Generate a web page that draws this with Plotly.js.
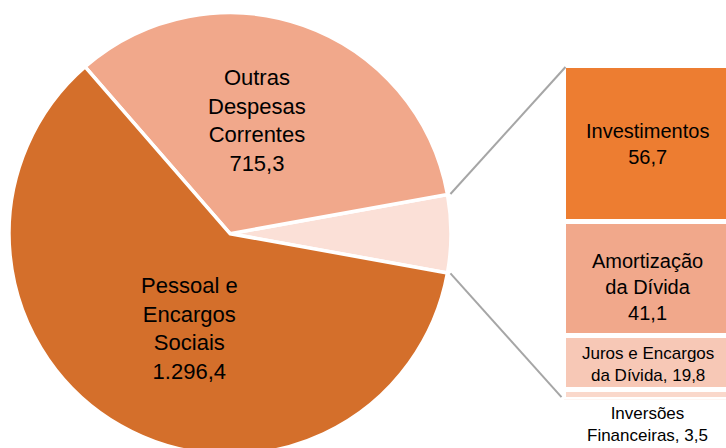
<!DOCTYPE html>
<html>
<head>
<meta charset="utf-8">
<script src="https://cdn.plot.ly/plotly-3.0.1.min.js"></script>
<style>
  html, body { margin: 0; padding: 0; overflow: hidden; background: #fff; }
  #chart { width: 732px; height: 460px; }
</style>
</head>
<body>
<div id="chart"></div>
<script>
// pie slices (R$ milhões)
let pieLabels = ["Outros", "Outras Despesas Correntes", "Pessoal e Encargos Sociais"];
let pieText = ["", "Outras<br>Despesas<br>Correntes<br>715,3", "Pessoal e<br>Encargos<br>Sociais<br>1.296,4"];
let pieValues = [null, 715.3, 1296.4];
let pieColors = ["#FBE0D7", "#F1A88B", "#D46F2B"];

// breakdown of the small slice, bottom to top
let barLabels = ["Inversões Financeiras", "Juros e Encargos da Dívida", "Amortização da Dívida", "Investimentos"];
let barText = ["Inversões<br>Financeiras, 3,5", "Juros e Encargos<br>da Dívida, 19,8", "Amortização<br>da Dívida<br>41,1", "Investimentos<br>56,7"];
let barValues = [3.5, 19.8, 41.1, 56.7];
let barColors = ["#FAD8CB", "#F7C8B6", "#F1A88B", "#ED7D31"];

let W = 732, H = 460;
let cx = 230, cy = 233.7, r = 221;     // pie box in pixels
let barLeft = 563.5, barTop = 65.5, barBottom = 399.6;

let otherTotal = 0;
for (let i = 0; i < barValues.length; i++) otherTotal += barValues[i];
pieValues[0] = otherTotal;
let grand = 0;
for (let i = 0; i < pieValues.length; i++) grand += pieValues[i];
let half = 360 * otherTotal / grand / 2;   // half angle of small slice

function px(x) { return x / W; }
function py(y) { return 1 - y / H; }

let pie = {
    type: "pie",
    labels: pieLabels,
    values: pieValues,
    sort: false,
    direction: "counterclockwise",
    rotation: 90 - half,
    textinfo: "none",
    hoverinfo: "skip",
    showlegend: false,
    marker: { colors: pieColors, line: { color: "#ffffff", width: 3.5 } },
    domain: { x: [px(cx - r), px(cx + r)], y: [py(cy + r), py(cy - r)] }
};

let data = [pie];
for (let i = 0; i < barValues.length; i++) {
    data.push({
        type: "bar",
        x: ["Outros"],
        y: [barValues[i]],
        name: barLabels[i],
        width: 1,
        hoverinfo: "skip",
        showlegend: false,
        marker: { color: barColors[i], line: { color: "#ffffff", width: 5 } }
    });
}

let font = "Liberation Sans, Arial, sans-serif";
let annotations = [
    { xref: "paper", yref: "paper", x: px(257), y: py(120), text: pieText[1], showarrow: false,
      xanchor: "center", yanchor: "middle", font: { family: font, size: 22, color: "#000" } },
    { xref: "paper", yref: "paper", x: px(189), y: py(328), text: pieText[2], showarrow: false,
      xanchor: "center", yanchor: "middle", font: { family: font, size: 22, color: "#000" } }
];
let barFont = [17, 17, 20, 20];
let barShift = [0, -2, -8, 0];
let cum = 0;
for (let i = 0; i < barValues.length; i++) {
    let a = {
        xref: "x", yref: "y", x: "Outros", text: barText[i], showarrow: false,
        xanchor: "center", font: { family: font, size: barFont[i], color: "#000" }
    };
    if (i === 0) {
        a.y = 0; a.yanchor = "top"; a.yshift = -2;
    } else {
        a.y = cum + barValues[i] / 2; a.yanchor = "middle"; a.yshift = barShift[i];
    }
    annotations.push(a);
    cum += barValues[i];
}

// connector lines from the small slice to the bar
let rad = half * Math.PI / 180;
let rr = r + 3;
let lineStyle = { color: "#A6A6A6", width: 2 };
let shapes = [
    { type: "line", xref: "paper", yref: "paper",
      x0: px(cx + rr * Math.cos(rad)), y0: py(cy - rr * Math.sin(rad)),
      x1: px(barLeft + 2), y1: py(barTop + 1.5), line: lineStyle },
    { type: "line", xref: "paper", yref: "paper",
      x0: px(cx + rr * Math.cos(rad)), y0: py(cy + rr * Math.sin(rad)),
      x1: px(barLeft - 2), y1: py(barBottom - 2.5), line: lineStyle }
];

let layout = {
    width: W,
    height: H,
    margin: { l: 0, r: 0, t: 0, b: 0 },
    paper_bgcolor: "#ffffff",
    plot_bgcolor: "rgba(0,0,0,0)",
    barmode: "stack",
    bargap: 0,
    showlegend: false,
    xaxis: { domain: [px(barLeft), 1], range: [-0.5, 0.5], visible: false, fixedrange: true },
    yaxis: { domain: [py(barBottom), py(barTop)], range: [0, otherTotal], visible: false, fixedrange: true },
    annotations: annotations,
    shapes: shapes
};

Plotly.newPlot("chart", data, layout, { displayModeBar: false, staticPlot: true });
</script>
</body>
</html>
